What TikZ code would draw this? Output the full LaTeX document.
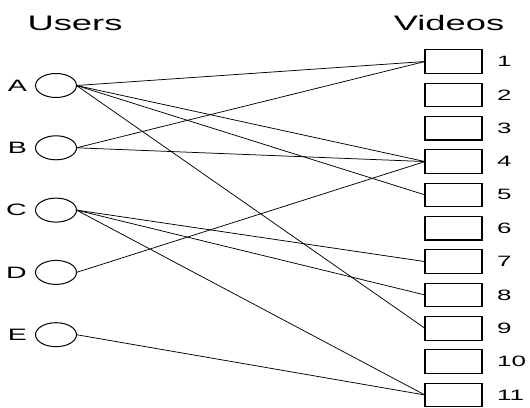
\documentclass[tikz,border=0pt]{standalone}
\usepackage{fontspec}
\setmainfont{Liberation Sans}[FakeStretch=1.73]
\usetikzlibrary{shapes.geometric, positioning}

\begin{document}
\begin{tikzpicture}[x=1pt, y=-1pt, node distance=9.35pt,
    user/.style={ellipse, draw, line width=1pt, minimum width=41pt, minimum height=24pt, inner sep=0pt, outer sep=0pt},
    video/.style={rectangle, draw, line width=1.1pt, minimum width=57pt, minimum height=23.5pt, inner sep=0pt, outer sep=0pt},
    tag/.style={inner sep=0pt, font=\fontsize{15}{15}\selectfont},
    head/.style={font=\fontsize{21}{21}\selectfont},
    edge/.style={line width=0.75pt}]
    \useasboundingbox (0,0) rectangle (530,407);

    % Column headings
    \node (users) [head] at (75,23) {Users};
    \node (videos) [head] at (449,23) {Videos};

    % User nodes, one below the other
    \node (A) [user] at (56,85.5) {};
    \node (B) [user, below=38.3pt of A] {};
    \node (C) [user, below=38.3pt of B] {};
    \node (D) [user, below=38.3pt of C] {};
    \node (E) [user, below=38.3pt of D] {};
    \foreach \u in {A,...,E}
        \node [tag, font=\fontsize{16.5}{16.5}\selectfont, left=8.5pt of \u] {\u};

    % Video nodes with their numbers
    \node (v1) [video] at (453.5,61.5) {};
    \foreach \i [count=\j from 1] in {2,...,11}
        \node (v\i) [video, below=9.85pt of v\j] {};
    \foreach \i in {1,...,11}
        \node [tag, right=15pt of v\i] {\i};

    % Who watched what
    \foreach \u/\v in {A/1, A/4, A/5, A/9, B/1, B/4, C/7, C/8, C/11, D/4, E/11}
        \draw [edge] (\u.east) -- (v\v.west);
\end{tikzpicture}
\end{document}
